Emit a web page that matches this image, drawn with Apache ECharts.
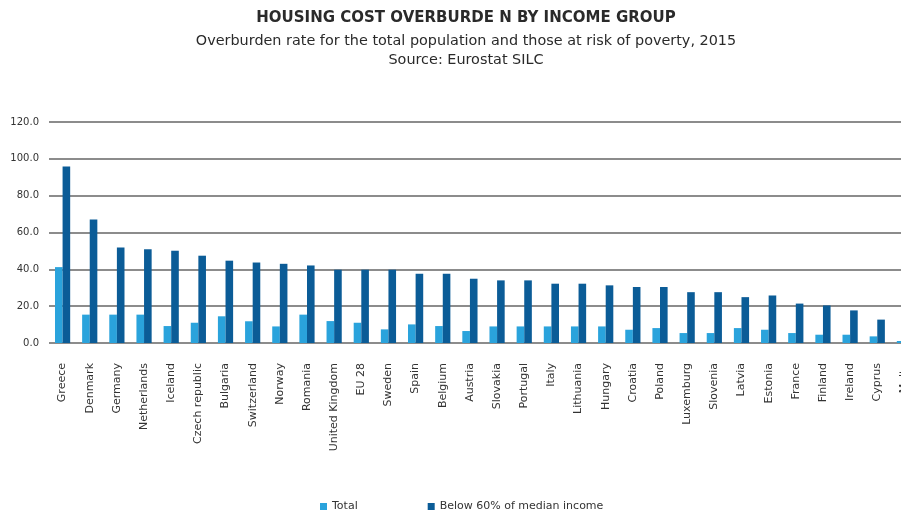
<!DOCTYPE html>
<html>
<head>
<meta charset="utf-8">
<script src="https://cdn.jsdelivr.net/npm/echarts@6/dist/echarts.min.js"></script>
<style>
  html, body { margin: 0; padding: 0; background: #fff; }
  #chart { width: 901px; height: 516px; }
</style>
</head>
<body>
<div id="chart"></div>
<script>
// Housing cost overburden rate (%), 2015
const countries = [
  'Greece', 'Denmark', 'Germany', 'Netherlands', 'Iceland', 'Czech republic',
  'Bulgaria', 'Switzerland', 'Norway', 'Romania', 'United Kingdom', 'EU 28',
  'Sweden', 'Spain', 'Belgium', 'Austria', 'Slovakia', 'Portugal', 'Italy',
  'Lithuania', 'Hungary', 'Croatia', 'Poland', 'Luxemburg', 'Slovenia',
  'Latvia', 'Estonia', 'France', 'Finland', 'Ireland', 'Cyprus', 'Malta'
];
const totalRate = [
  41.2, 15.4, 15.4, 15.4, 9.2, 11.0,
  14.5, 11.8, 9.0, 15.4, 11.9, 11.0,
  7.4, 10.1, 9.2, 6.5, 9.0, 9.0, 9.0,
  9.0, 9.0, 7.2, 8.1, 5.4, 5.4,
  8.1, 7.2, 5.4, 4.5, 4.5, 3.6, 1.1
];
const belowMedianRate = [
  95.8, 67.0, 51.9, 50.9, 50.1, 47.4,
  44.7, 43.7, 43.0, 42.1, 39.8, 39.8,
  39.8, 37.6, 37.6, 34.9, 34.0, 34.0, 32.2,
  32.2, 31.3, 30.4, 30.4, 27.6, 27.6,
  24.9, 25.8, 21.4, 20.4, 17.7, 12.7, 4.5
];
const seriesNames = ['Total', 'Below 60% of median income'];
const yTicks = { min: 0, max: 120, step: 20 };

const FONT = '"DejaVu Sans", "Liberation Sans", Arial, sans-serif';
const TITLE_X = 461;
const chart = echarts.init(document.getElementById('chart'), null, { renderer: 'canvas' });

chart.setOption({
  backgroundColor: '#ffffff',
  animation: false,
  title: [
    {
      text: 'HOUSING COST OVERBURDE N BY INCOME GROUP',
      left: TITLE_X, top: 6, textAlign: 'center',
      textStyle: { fontFamily: FONT, fontSize: 15, fontWeight: 'bold', color: '#2a2a2a' }
    },
    {
      text: 'Overburden rate for the total population and those at risk of poverty, 2015',
      left: TITLE_X, top: 29, textAlign: 'center',
      textStyle: { fontFamily: FONT, fontSize: 14.4, fontWeight: 'normal', color: '#2a2a2a' }
    },
    {
      text: 'Source: Eurostat SILC',
      left: TITLE_X, top: 48, textAlign: 'center',
      textStyle: { fontFamily: FONT, fontSize: 14.4, fontWeight: 'normal', color: '#2a2a2a' }
    }
  ],
  legend: {
    left: 315, top: 496,
    icon: 'rect',
    itemWidth: 7, itemHeight: 7, itemGap: 70,
    textStyle: { fontFamily: FONT, fontSize: 11, color: '#333' },
    data: seriesNames
  },
  // the last category runs past the right edge of the page
  grid: {
    left: 49, top: 122, bottom: 173, width: 869,
    containLabel: false, outerBoundsMode: 'none'
  },
  xAxis: {
    type: 'category',
    data: countries,
    axisLine: { show: false },
    axisTick: { show: false },
    axisLabel: {
      interval: 0, rotate: 90, margin: 20, hideOverlap: false,
      fontFamily: FONT, fontSize: 11, color: '#333'
    }
  },
  yAxis: {
    type: 'value',
    min: yTicks.min, max: yTicks.max, interval: yTicks.step,
    axisLine: { show: false },
    axisTick: { show: false },
    axisLabel: {
      margin: 10, fontFamily: FONT, fontSize: 10, color: '#333',
      formatter: v => v.toFixed(1)
    },
    splitLine: { lineStyle: { color: '#666', width: 1.5 } }
  },
  series: [
    {
      name: seriesNames[0], type: 'bar', data: totalRate,
      barWidth: '28%', barGap: '0%',
      itemStyle: { color: '#2aa3dc' }
    },
    {
      name: seriesNames[1], type: 'bar', data: belowMedianRate,
      barWidth: '28%', barGap: '0%',
      itemStyle: { color: '#0b5c97' }
    }
  ]
});
</script>
</body>
</html>
